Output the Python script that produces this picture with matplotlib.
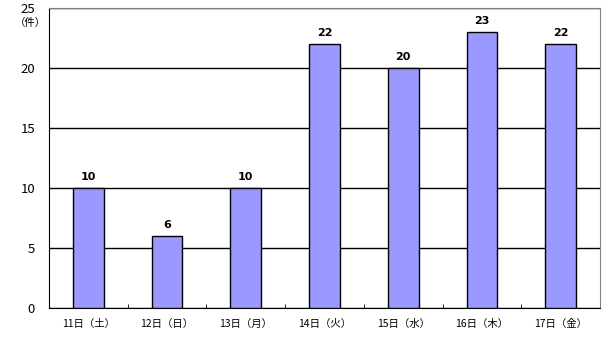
import numpy as np
import matplotlib.pyplot as plt

plt.rcParams['font.family'] = ['Noto Sans CJK JP', 'DejaVu Sans']

# data
days = ["11日（土）", "12日（日）", "13日（月）", "14日（火）", "15日（水）", "16日（木）", "17日（金）"]
counts = [10, 6, 10, 22, 20, 23, 22]
yticks = [0, 5, 10, 15, 20, 25]

fig = plt.figure(figsize=(6.07, 3.5), dpi=100)
ax = fig.add_axes([0.0807, 0.12, 0.9078, 0.857])

x = np.arange(len(days))
ax.bar(x, counts, width=0.39, color="#9999FF", edgecolor="black", linewidth=1, zorder=3)

# value labels
for xi, c in zip(x, counts):
    ax.text(xi, c + 0.5, str(c), ha="center", va="bottom", fontsize=8,
            fontweight="bold", family="DejaVu Sans")

ax.set_xlim(-0.5, len(days) - 0.5)
ax.set_ylim(0, 25)
ax.set_yticks(yticks)
ax.set_yticklabels([str(v) for v in yticks], fontsize=9.5)
ax.yaxis.grid(True, color="black", linewidth=1, zorder=0)
ax.tick_params(axis="y", length=0, pad=10)

# category labels + boundary ticks
ax.set_xticks(x)
ax.set_xticklabels(days, fontsize=7.5)
ax.tick_params(axis="x", which="major", length=0, pad=8)
ax.set_xticks(np.arange(0.5, len(days) - 0.5, 1), minor=True)
ax.tick_params(axis="x", which="minor", direction="in", length=3, color="black")

ax.spines["left"].set_color("black")
ax.spines["bottom"].set_color("black")
ax.spines["top"].set_color("gray")
ax.spines["right"].set_color("gray")

fig.text(0.05, 0.933, "（件）", fontsize=7.5, ha="center", va="center")

fig.savefig("out.png", dpi=100)
